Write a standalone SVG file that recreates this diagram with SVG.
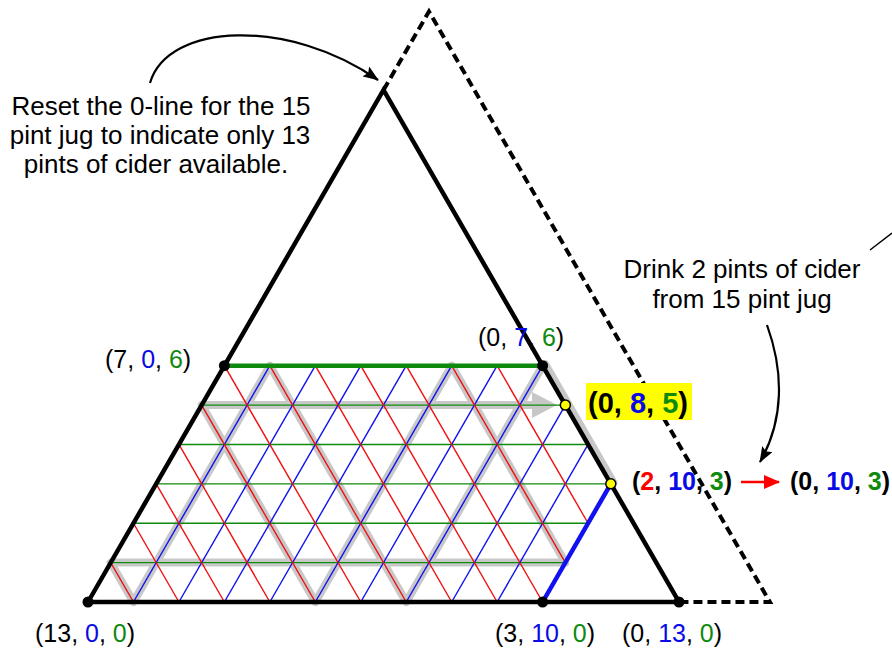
<svg xmlns="http://www.w3.org/2000/svg" width="892" height="649" viewBox="0 0 892 649">
<style>
text{font-family:"Liberation Sans",Arial,sans-serif;fill:#000}
.lbl{font-size:25px}
.bl{font-size:25px;font-weight:bold}
.ann{font-size:26px;text-anchor:middle}
.b{fill:#0a0ae6}
.g{fill:#0e8a0e}
.r{fill:#f00}
.gr line{stroke:#0e8a0e;stroke-width:1.4}
.bu line{stroke:#1010f0;stroke-width:1.4}
.rd line{stroke:#f01010;stroke-width:1.4}
.edge{stroke:#000;stroke-width:4.5;fill:none;stroke-linecap:round}
.dash{stroke:#000;stroke-width:4;fill:none;stroke-dasharray:9 5}
.dot{fill:#000}
.ydot{fill:#ffff00;stroke:#000;stroke-width:1.5}
.gp{fill:none;stroke:#c2c2c2;stroke-width:8;stroke-linejoin:round;stroke-linecap:round}
</style>
<defs>
<marker id="ah" viewBox="0 0 16 12" refX="15" refY="6" markerWidth="16" markerHeight="12" markerUnits="userSpaceOnUse" orient="auto"><path d="M0,0 L16,6 L0,12 L3,6 z" fill="#000"/></marker>
<marker id="ahr" viewBox="0 0 16 14" refX="15" refY="7" markerWidth="16" markerHeight="14" markerUnits="userSpaceOnUse" orient="auto"><path d="M0,0 L16,7 L0,14 z" fill="#f00"/></marker>
</defs>

<g id="solution-path" opacity="0.9">
<line class="gp" x1="613.4" y1="482.4" x2="545.2" y2="364.2"/>
<polyline class="gp" points="542.61,365.69 406.23,602 269.85,365.69 133.46,602 110.73,562.62 565.35,562.62 451.69,365.69 315.31,602 201.65,405.08 536,405.08"/>
<polygon points="532,392 557,405.08 532,418" fill="#c2c2c2"/>
</g>

<g id="grid">
<g class="gr">
<line x1="110.73" y1="562.62" x2="565.35" y2="562.62"/>
<line x1="133.46" y1="523.23" x2="588.08" y2="523.23"/>
<line x1="156.19" y1="483.85" x2="610.81" y2="483.85"/>
<line x1="178.92" y1="444.46" x2="588.08" y2="444.46"/>
<line x1="201.65" y1="405.08" x2="565.35" y2="405.08"/>
</g>
<g class="bu">
<line x1="133.46" y1="602" x2="269.85" y2="365.69"/>
<line x1="178.92" y1="602" x2="315.31" y2="365.69"/>
<line x1="224.38" y1="602" x2="360.77" y2="365.69"/>
<line x1="269.85" y1="602" x2="406.23" y2="365.69"/>
<line x1="315.31" y1="602" x2="451.69" y2="365.69"/>
<line x1="360.77" y1="602" x2="497.15" y2="365.69"/>
<line x1="406.23" y1="602" x2="542.61" y2="365.69"/>
<line x1="451.69" y1="602" x2="565.35" y2="405.08"/>
<line x1="497.15" y1="602" x2="588.08" y2="444.46"/>
</g>
<g class="rd">
<line x1="110.73" y1="562.62" x2="133.46" y2="602"/>
<line x1="133.46" y1="523.23" x2="178.92" y2="602"/>
<line x1="156.19" y1="483.85" x2="224.38" y2="602"/>
<line x1="178.92" y1="444.46" x2="269.85" y2="602"/>
<line x1="201.65" y1="405.08" x2="315.31" y2="602"/>
<line x1="224.38" y1="365.69" x2="360.77" y2="602"/>
<line x1="269.85" y1="365.69" x2="406.23" y2="602"/>
<line x1="315.31" y1="365.69" x2="451.69" y2="602"/>
<line x1="360.77" y1="365.69" x2="497.15" y2="602"/>
<line x1="406.23" y1="365.69" x2="542.61" y2="602"/>
<line x1="451.69" y1="365.69" x2="565.35" y2="562.62"/>
<line x1="497.15" y1="365.69" x2="588.08" y2="523.23"/>
</g>
<line x1="224.38" y1="365.69" x2="542.61" y2="365.69" stroke="#0e8a0e" stroke-width="4.5"/>
<line x1="542.61" y1="602" x2="610.81" y2="483.85" stroke="#1010f0" stroke-width="4.5"/>
</g>

<g id="triangle">
<path class="dash" d="M383.5,90 L428.96,11.5 L769.9,602 L679,602"/>
<path class="edge" d="M88,602 L383.5,90 L679,602 Z" stroke-linejoin="miter"/>
</g>

<g id="points">
<circle class="dot" cx="88" cy="602" r="5.5"/>
<circle class="dot" cx="224.38" cy="365.69" r="5.5"/>
<circle class="dot" cx="542.61" cy="365.69" r="5.5"/>
<circle class="dot" cx="542.61" cy="602" r="5.5"/>
<circle class="dot" cx="679" cy="602" r="5.5"/>
<circle class="ydot" cx="565.35" cy="405.08" r="5"/>
<circle class="ydot" cx="610.81" cy="483.85" r="5"/>
</g>

<g id="labels">
<text class="lbl" x="105" y="368">(7, <tspan class="b">0</tspan>, <tspan class="g">6</tspan>)</text>
<text class="lbl" x="478" y="346">(0, <tspan class="b">7</tspan>, <tspan class="g">6</tspan>)</text>
<text class="lbl" x="35" y="642">(13, <tspan class="b">0</tspan>, <tspan class="g">0</tspan>)</text>
<text class="lbl" x="495" y="642">(3, <tspan class="b">10</tspan>, <tspan class="g">0</tspan>)</text>
<text class="lbl" x="622" y="642">(0, <tspan class="b">13</tspan>, <tspan class="g">0</tspan>)</text>
<g id="label-085">
<rect x="586" y="383" width="106" height="37" fill="#ffff00"/>
<text class="bl" x="588" y="413" style="font-size:29px">(0, <tspan class="b">8</tspan>, <tspan class="g">5</tspan>)</text>
</g>
<text class="bl" x="632" y="490">(<tspan class="r">2</tspan>, <tspan class="b">10</tspan>, <tspan class="g">3</tspan>)</text>
<text class="bl" x="790" y="490">(0, <tspan class="b">10</tspan>, <tspan class="g">3</tspan>)</text>
</g>

<g id="connectors">
<path d="M150,83 C168,22 290,18 378,80" fill="none" stroke="#000" stroke-width="2.2" marker-end="url(#ah)"/>
<path d="M767,325 C784,372 784,420 760,462" fill="none" stroke="#000" stroke-width="2.2" marker-end="url(#ah)"/>
<line x1="741" y1="482" x2="779" y2="482" stroke="#f00" stroke-width="2.5" marker-end="url(#ahr)"/>
<line x1="870" y1="250" x2="892" y2="233" stroke="#000" stroke-width="1.5"/>
</g>

<g id="annotations">
<text class="ann" x="161" y="115">Reset the 0-line for the 15</text>
<text class="ann" x="160" y="144">pint jug to indicate only 13</text>
<text class="ann" x="156" y="173">pints of cider available.</text>
<text class="ann" x="742" y="278">Drink 2 pints of cider</text>
<text class="ann" x="742" y="308">from 15 pint jug</text>
</g>
</svg>
